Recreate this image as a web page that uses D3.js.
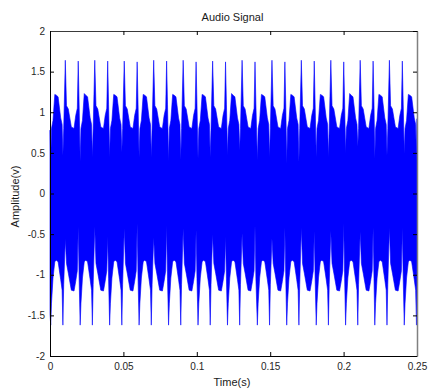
<!DOCTYPE html>
<html>
<head>
<meta charset="utf-8">
<script src="https://cdn.jsdelivr.net/npm/d3@7/dist/d3.min.js"></script>
<style>
  html, body { margin: 0; padding: 0; background: #fff; }
  svg { display: block; }
  text { font-family: "Liberation Sans", Arial, sans-serif; }
</style>
</head>
<body>
<svg id="chart" width="428" height="392"></svg>
<script>
// ---------------- data ----------------
const chartTitle = "Audio Signal";
const xLabel = "Time(s)";
const yLabel = "Amplitude(v)";

const xTickValues = [0, 0.05, 0.1, 0.15, 0.2, 0.25];
const xTickLabels = ["0", "0.05", "0.1", "0.15", "0.2", "0.25"];
const yTickValues = [2, 1.5, 1, 0.5, 0, -0.5, -1, -1.5, -2];
const yTickLabels = ["2", "1.5", "1", "0.5", "0", "-0.5", "-1", "-1.5", "-2"];

// envelope of the waveform: time (s), upper and lower extent (v)
const timeS = [
  0,
  0.00048,0.00102,0.00204,0.00327,0.00429,0.00552,0.00729,0.00825,0.00879,0.00934,0.01043,0.01125,0.01248,0.01452,0.01636,0.01752,0.01861,0.01923,0.01984,
  0.02055,0.02109,0.02211,0.02334,0.02436,0.02559,0.02736,0.02832,0.02886,0.02941,0.03050,0.03132,0.03255,0.03459,0.03643,0.03759,0.03868,0.03930,0.03991,
  0.04062,0.04116,0.04218,0.04341,0.04443,0.04566,0.04743,0.04839,0.04893,0.04948,0.05057,0.05139,0.05262,0.05466,0.05650,0.05766,0.05875,0.05937,0.05998,
  0.06069,0.06123,0.06225,0.06348,0.06450,0.06573,0.06750,0.06846,0.06900,0.06955,0.07064,0.07146,0.07269,0.07473,0.07657,0.07773,0.07882,0.07944,0.08005,
  0.08076,0.08130,0.08232,0.08355,0.08457,0.08580,0.08757,0.08853,0.08907,0.08962,0.09071,0.09153,0.09276,0.09480,0.09664,0.09780,0.09889,0.09951,0.10012,
  0.10083,0.10137,0.10239,0.10362,0.10464,0.10587,0.10764,0.10860,0.10914,0.10969,0.11078,0.11160,0.11283,0.11487,0.11671,0.11787,0.11896,0.11958,0.12019,
  0.12090,0.12144,0.12246,0.12369,0.12471,0.12594,0.12771,0.12867,0.12921,0.12976,0.13085,0.13167,0.13290,0.13494,0.13678,0.13794,0.13903,0.13965,0.14026,
  0.14125,0.14179,0.14281,0.14404,0.14506,0.14629,0.14806,0.14902,0.14956,0.15011,0.15120,0.15202,0.15325,0.15529,0.15713,0.15829,0.15938,0.16000,0.16061,
  0.16125,0.16179,0.16281,0.16404,0.16506,0.16629,0.16806,0.16902,0.16956,0.17011,0.17120,0.17202,0.17325,0.17529,0.17713,0.17829,0.17938,0.18000,0.18061,
  0.18135,0.18189,0.18291,0.18414,0.18516,0.18639,0.18816,0.18912,0.18966,0.19021,0.19130,0.19212,0.19335,0.19539,0.19723,0.19839,0.19948,0.20010,0.20071,
  0.20135,0.20189,0.20291,0.20414,0.20516,0.20639,0.20816,0.20912,0.20966,0.21021,0.21130,0.21212,0.21335,0.21539,0.21723,0.21839,0.21948,0.22010,0.22071,
  0.22125,0.22179,0.22281,0.22404,0.22506,0.22629,0.22806,0.22902,0.22956,0.23011,0.23120,0.23202,0.23325,0.23529,0.23713,0.23829,0.23938,0.24000,0.24061,
  0.24132,0.24186,0.24288,0.24411,0.24513,0.24636,0.24813,0.24909,0.24963,
  0.25
];

const upperV = [
  0.78,
  0.41,0.80,0.90,1.22,1.21,1.19,0.93,0.85,0.47,0.80,1.64,1.08,1.04,0.82,0.80,0.96,1.05,1.63,1.10,
  0.40,0.80,0.90,1.23,1.21,1.19,0.93,0.85,0.45,0.80,1.64,1.08,1.04,0.82,0.80,0.96,1.05,1.63,1.10,
  0.45,0.80,0.90,1.22,1.21,1.19,0.93,0.85,0.51,0.80,1.63,1.08,1.04,0.82,0.80,0.96,1.05,1.62,1.10,
  0.45,0.80,0.90,1.22,1.21,1.19,0.93,0.85,0.45,0.80,1.64,1.08,1.04,0.82,0.80,0.96,1.05,1.63,1.10,
  0.40,0.80,0.90,1.22,1.21,1.19,0.93,0.85,0.42,0.80,1.64,1.08,1.04,0.82,0.80,0.96,1.05,1.62,1.10,
  0.43,0.80,0.90,1.22,1.21,1.19,0.93,0.85,0.45,0.80,1.63,1.08,1.04,0.82,0.80,0.96,1.05,1.62,1.10,
  0.47,0.80,0.90,1.23,1.21,1.19,0.93,0.85,0.53,0.80,1.64,1.08,1.04,0.82,0.80,0.96,1.05,1.62,1.10,
  0.41,0.80,0.90,1.22,1.21,1.19,0.93,0.85,0.45,0.80,1.64,1.08,1.04,0.82,0.80,0.96,1.05,1.62,1.10,
  0.37,0.80,0.90,1.22,1.21,1.19,0.93,0.85,0.39,0.80,1.64,1.08,1.04,0.82,0.80,0.96,1.05,1.63,1.10,
  0.45,0.80,0.90,1.22,1.21,1.19,0.93,0.85,0.45,0.80,1.64,1.08,1.04,0.82,0.80,0.96,1.05,1.62,1.10,
  0.50,0.80,0.90,1.23,1.21,1.19,0.93,0.85,0.58,0.80,1.64,1.08,1.04,0.82,0.80,0.96,1.05,1.63,1.10,
  0.43,0.80,0.90,1.22,1.21,1.19,0.93,0.85,0.47,0.80,1.64,1.08,1.04,0.82,0.80,0.96,1.05,1.63,1.10,
  0.49,0.80,0.90,1.22,1.21,1.19,0.93,0.85,0.39,
  0.92
];

const lowerV = [
  -1.48,
  -1.62,-1.35,-1.04,-0.84,-0.82,-0.84,-1.06,-1.19,-1.62,-1.12,-0.56,-0.86,-0.98,-1.19,-1.20,-1.08,-0.95,-0.41,-1.05,
  -1.62,-1.35,-1.04,-0.84,-0.82,-0.84,-1.06,-1.19,-1.62,-1.12,-0.41,-0.86,-0.98,-1.19,-1.20,-1.08,-0.95,-0.53,-1.05,
  -1.62,-1.35,-1.04,-0.84,-0.82,-0.84,-1.06,-1.19,-1.62,-1.12,-0.43,-0.86,-0.98,-1.19,-1.20,-1.08,-0.95,-0.37,-1.05,
  -1.62,-1.35,-1.04,-0.84,-0.82,-0.84,-1.06,-1.19,-1.62,-1.12,-0.54,-0.86,-0.98,-1.19,-1.20,-1.08,-0.95,-0.39,-1.05,
  -1.62,-1.35,-1.04,-0.84,-0.82,-0.84,-1.06,-1.19,-1.62,-1.12,-0.43,-0.86,-0.98,-1.19,-1.20,-1.08,-0.95,-0.45,-1.05,
  -1.62,-1.35,-1.04,-0.84,-0.82,-0.84,-1.06,-1.19,-1.62,-1.12,-0.50,-0.86,-0.98,-1.19,-1.20,-1.08,-0.95,-0.53,-1.05,
  -1.62,-1.35,-1.04,-0.84,-0.82,-0.84,-1.06,-1.19,-1.62,-1.12,-0.49,-0.86,-0.98,-1.19,-1.20,-1.08,-0.95,-0.39,-1.05,
  -1.62,-1.35,-1.04,-0.84,-0.82,-0.84,-1.06,-1.19,-1.62,-1.12,-0.55,-0.86,-0.98,-1.19,-1.20,-1.08,-0.95,-0.42,-1.05,
  -1.62,-1.35,-1.04,-0.84,-0.82,-0.84,-1.06,-1.19,-1.62,-1.12,-0.42,-0.86,-0.98,-1.19,-1.20,-1.08,-0.95,-0.46,-1.05,
  -1.62,-1.35,-1.04,-0.84,-0.82,-0.84,-1.06,-1.19,-1.62,-1.12,-0.46,-0.86,-0.98,-1.19,-1.20,-1.08,-0.95,-0.37,-1.05,
  -1.62,-1.35,-1.04,-0.84,-0.82,-0.84,-1.06,-1.19,-1.62,-1.12,-0.47,-0.86,-0.98,-1.19,-1.20,-1.08,-0.95,-0.42,-1.05,
  -1.62,-1.35,-1.04,-0.84,-0.82,-0.84,-1.06,-1.19,-1.62,-1.12,-0.42,-0.86,-0.98,-1.19,-1.20,-1.08,-0.95,-0.42,-1.05,
  -1.62,-1.35,-1.04,-0.84,-0.82,-0.84,-1.06,-1.19,-1.62,
  -1.20
];

// ---------------- drawing ----------------
const svg = d3.select("#chart");
const W = 428, H = 392;
const margin = { left: 50, right: 11, top: 31, bottom: 36 };
const plotW = W - margin.left - margin.right;   // 367
const plotH = H - margin.top - margin.bottom;   // 325

svg.append("rect").attr("width", W).attr("height", H).attr("fill", "#fff");

const x = d3.scaleLinear().domain([0, 0.25]).range([margin.left, margin.left + plotW]);
const y = d3.scaleLinear().domain([-2, 2]).range([margin.top + plotH, margin.top]);

const data = timeS.map((t, i) => ({ t, hi: upperV[i], lo: lowerV[i] }));

const area = d3.area()
  .x(d => x(d.t))
  .y0(d => y(d.lo))
  .y1(d => y(d.hi))
  .curve(d3.curveLinear);

svg.append("path")
  .datum(data)
  .attr("d", area)
  .attr("fill", "#0000ff")
  .attr("stroke", "#0000ff")
  .attr("stroke-width", 0.6);

const fmtX = d => xTickLabels[xTickValues.indexOf(d)];
const fmtY = d => yTickLabels[yTickValues.indexOf(d)];

// bottom axis
const gx = svg.append("g")
  .attr("transform", `translate(0,${margin.top + plotH})`)
  .call(d3.axisBottom(x).tickValues(xTickValues).tickFormat(fmtX)
    .tickSizeInner(-4).tickSizeOuter(0).tickPadding(7));
// left axis
const gy = svg.append("g")
  .attr("transform", `translate(${margin.left},0)`)
  .call(d3.axisLeft(y).tickValues(yTickValues).tickFormat(fmtY)
    .tickSizeInner(-4).tickSizeOuter(0).tickPadding(5));
// top axis (ticks only)
const gt = svg.append("g")
  .attr("transform", `translate(0,${margin.top})`)
  .call(d3.axisTop(x).tickValues(xTickValues).tickFormat("")
    .tickSizeInner(-4).tickSizeOuter(0));
// right axis (ticks only)
const gr = svg.append("g")
  .attr("transform", `translate(${margin.left + plotW},0)`)
  .call(d3.axisRight(y).tickValues(yTickValues).tickFormat("")
    .tickSizeInner(-4).tickSizeOuter(0));

[gx, gy, gt, gr].forEach(g => {
  g.selectAll("text")
    .attr("font-family", '"Liberation Sans", Arial, sans-serif')
    .attr("font-size", 10)
    .attr("fill", "#262626");
  g.selectAll("line").attr("stroke", "#000");
});
gx.select(".domain").attr("stroke", "#000");
gy.select(".domain").attr("stroke", "#000");
gt.select(".domain").attr("stroke", "#3a3a3a").attr("stroke-width", 1.2);
gr.select(".domain").attr("stroke", "#808080").attr("stroke-width", 1.5);

// title
svg.append("text")
  .attr("x", margin.left + plotW / 2 - 1)
  .attr("y", 20.5)
  .attr("text-anchor", "middle")
  .attr("font-size", 11)
  .attr("fill", "#1a1a1a")
  .text(chartTitle);

// x label
svg.append("text")
  .attr("x", margin.left + plotW / 2 - 1.5)
  .attr("y", 385.5)
  .attr("text-anchor", "middle")
  .attr("font-size", 11)
  .attr("fill", "#1a1a1a")
  .text(xLabel);

// y label
svg.append("text")
  .attr("transform", `translate(19,${margin.top + plotH / 2 + 3}) rotate(-90)`)
  .attr("text-anchor", "middle")
  .attr("font-size", 11)
  .attr("fill", "#1a1a1a")
  .text(yLabel);
</script>
</body>
</html>
